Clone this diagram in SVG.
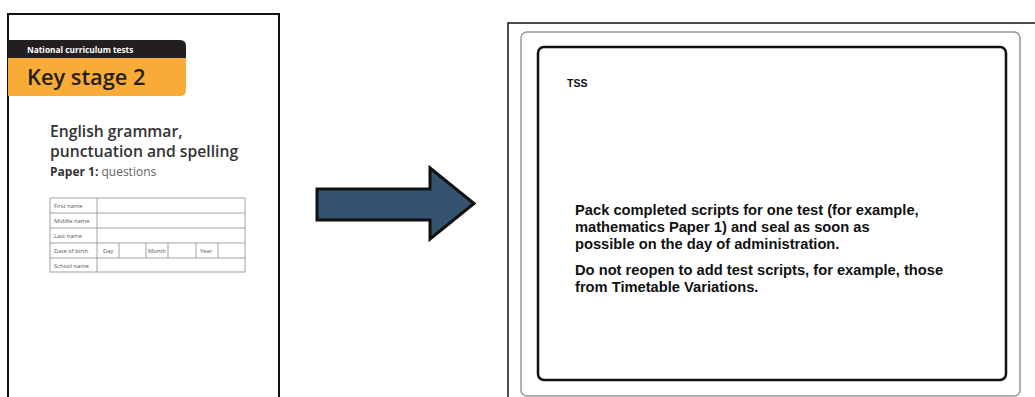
<svg xmlns="http://www.w3.org/2000/svg" width="1035" height="397" viewBox="0 0 1035 397">
<style>
.page{fill:#fff;stroke:#111;stroke-width:2}
.cell{fill:none;stroke:#8a8a8a;stroke-width:0.8}
.tl{font-family:"Open Sans","Liberation Sans",sans-serif;font-size:5.8px;fill:#555}
.msg{font-family:"Liberation Sans",Arial,sans-serif;font-weight:bold;font-size:14.7px;fill:#111}
</style>
<rect width="1035" height="397" fill="#fff"/>
<g id="paper">
<rect class="page" x="8" y="14" width="271" height="384"/>
<path d="M8 40 H180 Q186 40 186 46 V58 H8 Z" fill="#231f20"/>
<path d="M8 58 H186 V90 Q186 96 180 96 H8 Z" fill="#f9ab37"/>
<text x="27" y="53" font-family="'Open Sans','Liberation Sans',sans-serif" font-weight="bold" font-size="8.3" fill="#fff">National curriculum tests</text>
<text x="27" y="85" font-family="'Open Sans','Liberation Sans',sans-serif" font-weight="600" font-size="21.8" fill="#231f20">Key stage 2</text>
<text x="50" y="137" font-family="'Open Sans','Liberation Sans',sans-serif" font-weight="600" font-size="15.7" fill="#333">English grammar,</text>
<text x="50" y="157" font-family="'Open Sans','Liberation Sans',sans-serif" font-weight="600" font-size="15.7" fill="#333">punctuation and spelling</text>
<text x="50" y="176" font-family="'Open Sans','Liberation Sans',sans-serif" font-size="12" fill="#666"><tspan font-weight="bold" fill="#333">Paper 1:</tspan> questions</text>
<g id="form">
<rect class="cell" x="50" y="198" width="195" height="74"/>
<line class="cell" x1="50" y1="213" x2="245" y2="213"/>
<line class="cell" x1="50" y1="228" x2="245" y2="228"/>
<line class="cell" x1="50" y1="243" x2="245" y2="243"/>
<line class="cell" x1="50" y1="258" x2="245" y2="258"/>
<line class="cell" x1="97" y1="198" x2="97" y2="272"/>
<line class="cell" x1="119" y1="243" x2="119" y2="258"/>
<line class="cell" x1="146" y1="243" x2="146" y2="258"/>
<line class="cell" x1="168" y1="243" x2="168" y2="258"/>
<line class="cell" x1="196" y1="243" x2="196" y2="258"/>
<line class="cell" x1="218" y1="243" x2="218" y2="258"/>
<text class="tl" x="54" y="207.5">First name</text>
<text class="tl" x="54" y="222.5">Middle name</text>
<text class="tl" x="54" y="237.5">Last name</text>
<text class="tl" x="54" y="252.5">Date of birth</text>
<text class="tl" x="54" y="267.5">School name</text>
<text class="tl" x="103" y="252.5">Day</text>
<text class="tl" x="148" y="252.5">Month</text>
<text class="tl" x="200" y="252.5">Year</text>
</g>
</g>
<g id="connectors">
<path d="M317 189 H430 V168 L474 203.5 L430 239 V220 H317 Z" fill="#34536f" stroke="#111" stroke-width="3" stroke-linejoin="miter"/>
</g>
<g id="label">
<rect x="508" y="23" width="540" height="390" fill="#fff" stroke="#111" stroke-width="1.5"/>
<rect x="521" y="32" width="499" height="364" rx="6" fill="#fff" stroke="#999" stroke-width="1.5"/>
<rect x="538" y="47" width="468" height="333" rx="6" fill="#fff" stroke="#111" stroke-width="2.5"/>
<text x="567" y="87" font-family="'Liberation Sans',Arial,sans-serif" font-weight="bold" font-size="10.5" fill="#111">TSS</text>
<text class="msg" x="575" y="215">Pack completed scripts for one test (for example,</text>
<text class="msg" x="575" y="232">mathematics Paper 1) and seal as soon as</text>
<text class="msg" x="575" y="249">possible on the day of administration.</text>
<text class="msg" x="575" y="275">Do not reopen to add test scripts, for example, those</text>
<text class="msg" x="575" y="292">from Timetable Variations.</text>
</g>
</svg>
